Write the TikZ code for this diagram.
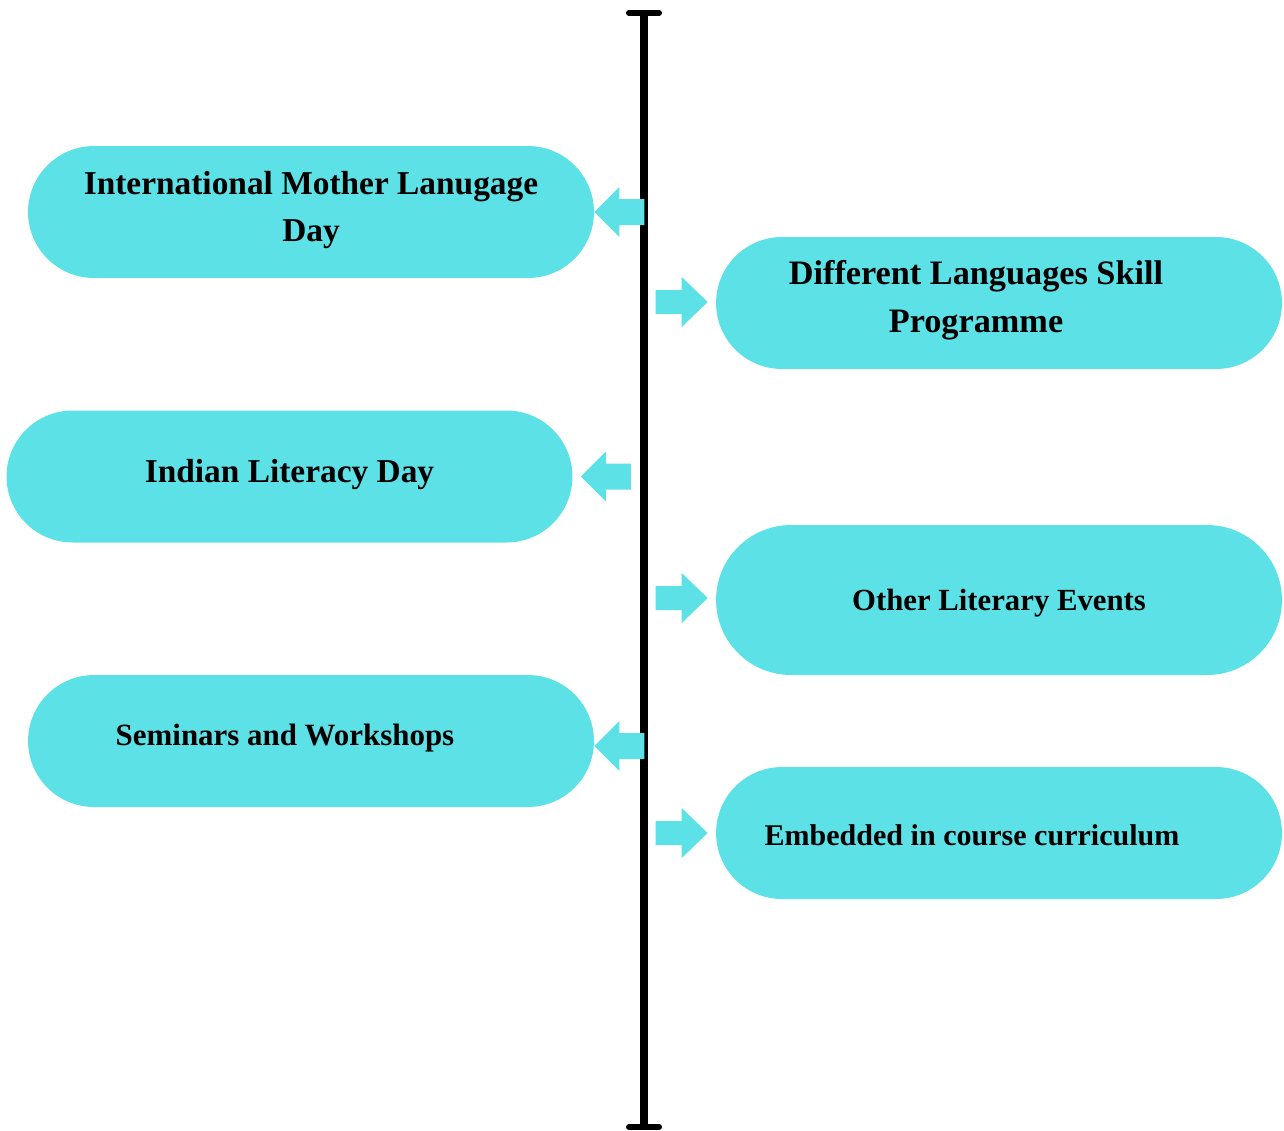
\documentclass[tikz,border=0pt]{standalone}
\usepackage{fontspec}
\setmainfont{Liberation Serif}
\usetikzlibrary{positioning}
\definecolor{pillcyan}{HTML}{5CE1E6}
\tikzset{
  pill/.style={fill=pillcyan, minimum width=11.32cm, minimum height=2.64cm,
    rounded corners=1.32cm, inner sep=0pt},
  pilltext/.style={align=center, inner sep=0pt,
    font=\fontsize{19}{27}\selectfont\bfseries},
  smalltext/.style={pilltext, font=\fontsize{#1}{27}\selectfont\bfseries},
  blockarrow/.style={fill=pillcyan},
  timeline/.style={line width=4pt},
}
% block arrows, tip given as first argument
\newcommand{\arrowtoleft}[1]{\fill[blockarrow] (#1) -- ++(25,-25) -- ++(0,12)
  -- ++(25,0) -- ++(0,26) -- ++(-25,0) -- ++(0,12) -- cycle;}
\newcommand{\arrowtoright}[1]{\fill[blockarrow] (#1) -- ++(-26,-25) -- ++(0,13)
  -- ++(-26,0) -- ++(0,24) -- ++(26,0) -- ++(0,13) -- cycle;}

\begin{document}
\begin{tikzpicture}[x=0.02cm, y=-0.02cm]
  \useasboundingbox (0,0) rectangle (1284,1130);

  % Timeline
  \coordinate (top) at (644,13);
  \coordinate (bottom) at (644,1127);
  \draw[timeline] (top) -- (bottom);
  \draw[line width=3.4pt, line cap=round] ([xshift=-0.3cm]top) -- ([xshift=0.3cm]top);
  \draw[line width=3.4pt, line cap=round] ([xshift=-0.3cm]bottom) -- ([xshift=0.3cm]bottom);

  % Left side
  \node[pill] (mother) at (311,212) {};
  \node[pilltext] (mothertext) at ([yshift=0.04cm]mother.center) {International Mother Lanugage\\Day};
  \node[pill] (literacy) at (289.5,476.5) {};
  \node[pilltext] (literacytext) at ([yshift=0.04cm]literacy.center) {Indian Literacy Day};
  \node[pill] (seminar) at (311,741) {};
  \node[smalltext=17.6] (seminartext) at ([xshift=-0.52cm, yshift=0.05cm]seminar.center) {Seminars and Workshops};

  % Right side
  \node[pill] (skill) at (999,303) {};
  \node[smalltext=19.5] (skilltext) at ([xshift=-0.46cm, yshift=0.06cm]skill.center) {Different Languages Skill\\Programme};
  \node[pill, minimum height=3cm, rounded corners=1.5cm] (events) at (999,600) {};
  \node[smalltext=17.5] (eventstext) at ([yshift=-0.06cm]events.center) {Other Literary Events};
  \node[pill] (course) at (999,833) {};
  \node[smalltext=17.1] (coursetext) at ([xshift=-0.54cm, yshift=-0.05cm]course.center) {Embedded in course curriculum};

  % Arrows
  \arrowtoleft{mother.east}
  \arrowtoleft{[xshift=0.16cm]literacy.east}
  \arrowtoleft{[yshift=-0.1cm]seminar.east}
  \arrowtoright{[xshift=-0.16cm, yshift=0.02cm]skill.west}
  \arrowtoright{[xshift=-0.16cm, yshift=0.04cm]events.west}
  \arrowtoright{[xshift=-0.16cm]course.west}
\end{tikzpicture}
\end{document}
